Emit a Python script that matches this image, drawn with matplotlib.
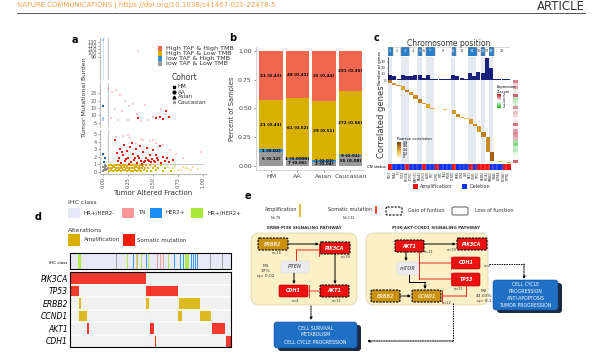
import numpy as np
import matplotlib
matplotlib.use('Agg')
import matplotlib.pyplot as plt
from matplotlib.patches import Rectangle, FancyBboxPatch
from matplotlib.colors import ListedColormap, LinearSegmentedColormap

# ---------------- panel a : TAF vs TMB ----------------
# bottom segment (TMB 0-5)
gold_x1 = [0.06, 0.08, 0.1, 0.12, 0.14, 0.16, 0.18, 0.2, 0.22, 0.24, 0.26, 0.28, 0.3, 0.32, 0.34, 0.36, 0.38, 0.4, 0.43, 0.47, 0.52, 0.58]
gold_y1 = [0.85, 0.9, 0.8, 0.95, 0.85, 0.9, 0.8, 0.92, 0.86, 0.8, 0.9, 0.84, 0.88, 0.82, 0.9, 0.8, 0.87, 0.83, 0.9, 0.85, 0.8, 0.9]
gold_x2 = [0.05, 0.07, 0.09, 0.11, 0.13, 0.15, 0.17, 0.19, 0.21, 0.23, 0.25, 0.27, 0.29, 0.31, 0.33, 0.35, 0.37, 0.39, 0.42, 0.45, 0.5, 0.55, 0.62]
gold_y2 = [0.5, 0.55, 0.45, 0.6, 0.5, 0.55, 0.45, 0.5, 0.6, 0.48, 0.52, 0.45, 0.55, 0.5, 0.6, 0.45, 0.5, 0.55, 0.48, 0.5, 0.55, 0.45, 0.5]
gold_x3 = [0.06, 0.08, 0.1, 0.12, 0.14, 0.16, 0.18, 0.2, 0.22, 0.24, 0.26, 0.28, 0.3, 0.32, 0.34, 0.36, 0.38, 0.41, 0.44, 0.48, 0.53, 0.6, 0.68]
gold_y3 = [0.15, 0.2, 0.1, 0.25, 0.15, 0.2, 0.1, 0.18, 0.22, 0.12, 0.2, 0.15, 0.1, 0.2, 0.15, 0.18, 0.12, 0.2, 0.15, 0.1, 0.2, 0.15, 0.1]
goldc_x = [0.7, 0.75, 0.8, 0.85, 0.9, 0.72, 0.78, 0.83, 0.65, 0.88, 0.95]
goldc_y = [0.5, 0.3, 0.7, 0.4, 0.6, 0.8, 0.2, 0.5, 0.7, 0.3, 0.4]
red_x = [0.12, 0.14, 0.15, 0.17, 0.18, 0.2, 0.21, 0.22, 0.24, 0.25, 0.27, 0.28, 0.3, 0.31, 0.33, 0.34, 0.35,
         0.37, 0.38, 0.4, 0.41, 0.43, 0.44, 0.46, 0.47, 0.49, 0.5, 0.52, 0.53, 0.55, 0.57, 0.58, 0.6, 0.62,
         0.64, 0.66, 0.7, 0.16, 0.23, 0.29, 0.36, 0.42, 0.48, 0.54, 0.19, 0.26, 0.32, 0.39, 0.45, 0.51]
red_y = [4.2, 2.5, 1.5, 3.1, 1.2, 2.2, 3.6, 1.4, 2.8, 1.8, 3.3, 1.3, 2.4, 1.6, 3.0, 1.2, 2.1,
         3.5, 1.5, 2.6, 1.3, 1.9, 3.2, 1.4, 2.2, 1.7, 2.9, 1.3, 2.3, 1.6, 3.4, 1.2, 2.0, 1.5,
         1.9, 1.3, 1.6, 1.9, 1.7, 3.8, 1.8, 1.5, 1.3, 1.9, 2.7, 1.1, 1.9, 1.1, 1.6, 1.4]
pink_x = [0.13, 0.2, 0.27, 0.33, 0.4, 0.47, 0.53, 0.6, 0.67, 0.73, 0.8, 0.98, 0.25, 0.38, 0.5]
pink_y = [4.6, 4.8, 4.5, 3.9, 4.3, 4.1, 3.8, 3.6, 2.9, 2.4, 1.8, 2.6, 4.9, 4.4, 4.2]
blue_x = [0.0, 0.02, 0.01]
blue_y = [2.4, 1.8, 1.3]
grey_x = [0.0, 0.01, 0.02, 0.03, 0.0, 0.02, 0.04, 0.01, 0.03]
grey_y = [0.1, 0.3, 0.5, 0.2, 0.7, 0.9, 0.4, 0.6, 0.8]
# middle segment (TMB 5-30)
redm_x = [0.35, 0.53, 0.57, 0.6, 0.63, 0.66]
redm_y = [8, 8, 8.5, 7.5, 13, 9]
pinkm_x = [0.05, 0.09, 0.13, 0.17, 0.22, 0.26, 0.3, 0.12, 0.19, 0.34, 0.42, 0.5, 0.58, 0.7, 0.62, 0.45, 0.25, 0.15, 0.08, 0.38]
pinkm_y = [28, 26, 27, 24, 20, 16, 18, 14, 13, 11, 17, 9, 14, 21, 11, 7, 7, 7, 8, 6]
bluem_x = [0.0]
bluem_y = [16]
bluemc_x = [0.0, 0.0]
bluemc_y = [8, 7]
# top segment
pinkt_x = [0.35]
pinkt_y = [105]
bluet_x = [0.0]
bluet_y = [136]

# ---------------- panel b ----------------
cohorts = ['HM', 'AA', 'Asian', 'Caucasian']
n_lowlow = [6, 7, 2, 55]
n_lowhigh = [1, 1, 1, 9]
n_highlow = [21, 61, 29, 372]
n_highhigh = [21, 48, 25, 231]

# ---------------- panel c ----------------
c_counts = [9, 6, 2, 8, 6, 7, 8, 9, 4, 8, 2, 1, 1, 1, 1, 9, 7, 3, 1, 11, 6, 14, 11, 36, 20, 1, 1, 1, 2]
c_corr = [0.55, 0.45, 0.5, 0.4, 0.6, 0.45, 0.5, 0.55, 0.45, 0.4, 0.35, 0.3, 0.3, 0.3, 0.3, 0.45, 0.5,
          0.4, 0.3, 0.45, 0.5, 0.45, 0.55, 0.5, 0.65, 0.3, 0.3, 0.3, 0.35]
c_cn = 'RBBBRBBBRBBRBBBRBBBRBRRRBBBRR'
c_genes = ['MCL1', 'NRAS', 'FH', 'SOX2', 'PIK3CA', 'FGFR3', 'MAP3K1', 'RASA1', 'FOXO3', 'EGFR',
           'MET', 'FGFR1', 'MYC', 'JAK2', 'PTEN', 'CCND1', 'KRAS', 'CDK4', 'RB1', 'AKT1', 'CDH1',
           'TP53', 'ERBB2', 'BRCA1', 'SMAD4', 'GNAS', 'AURKA', 'NCOA3', 'PTPN1']
chrom_groups = [('1', 0, 1, 1), ('2', 1, 3, 0), ('3', 3, 5, 1), ('4', 5, 7, 0), ('5', 7, 8, 1), ('6', 8, 9, 0),
                ('7', 9, 11, 1), ('8', 11, 15, 0), ('11', 15, 16, 1), ('12', 16, 19, 0), ('14', 19, 21, 1),
                ('15', 21, 22, 0), ('16', 22, 23, 1), ('17', 23, 24, 0), ('19', 24, 25, 1), ('20', 25, 29, 0)]
expr_z = [1.6, 0.6, 1.2, -0.4, 0.3, 2.0, -1.0, -0.8, -0.5, 1.4, 0.2, 0.8, 0.6, 0.1, 0.3, 1.8, 0.2,
          1.2, 1.5, 1.3, 1.0, -1.2, -1.6, -0.7, -0.9, -0.4, -0.2, 0.1, 2.0]

# ---------------- panel d ----------------
n_samples = 160
ihc_pink = [67, 86, 89, 92]
ihc_blue = [63, 76, 103, 109, 112, 120, 122, 124, 126]
ihc_lime = [8, 9, 10, 57, 66, 71, 78, 97, 114, 115, 116, 117]
ihc_na = [46, 139, 151]
onco_genes = ['PIK3CA', 'TP53', 'ERBB2', 'CCND1', 'AKT1', 'CDH1']
onco_type = [2, 2, 1, 1, 2, 2]   # 1 amplification, 2 somatic mutation
onco_runs = [[(0, 76)],
             [(0, 9), (76, 107)],
             [(9, 11), (76, 79), (108, 129)],
             [(9, 17), (107, 111), (129, 140)],
             [(0, 1), (17, 19), (80, 83), (141, 154)],
             [(84, 85), (155, 160)]]

RED = '#F0674F'
GOLD = '#D8B000'
BLUE = '#2B8FD9'
GREY = '#9A9A9A'
MUT = '#EE1C0E'

W, H = 600, 358
fig = plt.figure(figsize=(6, 3.58), dpi=100)


def px(x0, y0, x1, y1):
    return fig.add_axes([x0 / W, 1 - y1 / H, (x1 - x0) / W, (y1 - y0) / H])


# overlay for free text / shapes, drawn above the data axes
ov = px(0, 0, W, H)
ov.set_xlim(0, W)
ov.set_ylim(H, 0)
ov.axis('off')
ov.set_zorder(10)

# header
ov.text(17, 5.5, 'NATURE COMMUNICATIONS | https://doi.org/10.1038/s41467-021-22478-5', fontsize=5,
        color='#F4A04A', va='center')
ov.text(585, 6, 'ARTICLE', fontsize=8.5, color='#333333', ha='right', va='center')
ov.plot([17, 585], [12.5, 12.5], color='#555555', lw=0.7)

for lab, x, y in [('a', 75, 40), ('b', 233, 38), ('c', 377, 38), ('d', 38, 217), ('e', 248, 196)]:
    ov.text(x, y, lab, fontsize=7, weight='bold', ha='center', va='center')

# ---------------- panel a ----------------
def seg(y0, y1, ylim, ticks):
    ax = px(100, y0, 206, y1)
    ax.set_xlim(-0.03, 1.03)
    ax.set_ylim(*ylim)
    for s in ['top', 'right', 'bottom']:
        ax.spines[s].set_visible(False)
    ax.spines['left'].set_color('#BBBBBB')
    ax.spines['left'].set_linewidth(0.8)
    ax.set_yticks(ticks)
    ax.tick_params(length=1.5, width=0.4, labelsize=3.5, pad=1, colors='#555555')
    ax.set_xticks([])
    ax.axvline(0.05, color='#C8C8C8', lw=0.8, zorder=0)
    ax.patch.set_alpha(0)
    return ax

a_top = seg(38, 80, (30, 140), [90, 100, 110, 120, 130])
a_mid = seg(83, 127, (2, 32), [5, 10, 15, 20, 25])
a_bot = seg(130, 174, (-0.3, 5.6), [0, 1, 2, 3, 4, 5])
a_bot.spines['bottom'].set_visible(True)
a_bot.spines['bottom'].set_color('#BBBBBB')
a_bot.set_xticks([0, 0.25, 0.5, 0.75, 1.0])
a_bot.set_xticklabels(['0.00', '0.25', '0.50', '0.75', '1.00'], rotation=90)
a_bot.set_xlabel('Tumor Altered Fraction', fontsize=5, labelpad=1.5, color='#333333')
a_bot.plot([0.05, 1.0], [1, 1], color='#C8C8C8', lw=0.7, zorder=0)
a_top.plot([0.0, 0.0], [30, 140], color='#CFE3F5', lw=0.8, zorder=0)

ms = 4
for xs, ys in [(gold_x1, gold_y1), (gold_x2, gold_y2), (gold_x3, gold_y3)]:
    a_bot.scatter(xs, ys, s=ms, marker='s', color=GOLD, lw=0)
a_bot.scatter(goldc_x, goldc_y, s=ms, marker='s', color=GOLD, alpha=0.35, lw=0)
a_bot.scatter(pink_x, pink_y, s=ms, marker='s', color='#F07070', alpha=0.35, lw=0)
a_bot.scatter(red_x, red_y, s=ms, marker='s', color='#EA1B10', lw=0)
a_bot.scatter(blue_x, blue_y, s=ms, marker='s', color='#1565C0', lw=0)
a_bot.scatter(grey_x, grey_y, s=ms, marker='s', color='#8C8C8C', lw=0)
a_mid.scatter(pinkm_x, pinkm_y, s=ms, marker='s', color='#F07070', alpha=0.35, lw=0)
a_mid.scatter(redm_x, redm_y, s=ms, marker='s', color='#EA1B10', lw=0)
a_mid.scatter(bluem_x, bluem_y, s=ms, marker='s', color='#1565C0', lw=0)
a_mid.scatter(bluemc_x, bluemc_y, s=ms, marker='s', color='#1565C0', alpha=0.35, lw=0)
a_top.scatter(pinkt_x, pinkt_y, s=ms, marker='s', color='#F07070', alpha=0.35, lw=0)
a_top.scatter(bluet_x, bluet_y, s=ms, marker='s', color='#1565C0', alpha=0.35, lw=0)
ov.text(84, 97, 'Tumor Mutational Burden', rotation=90, fontsize=4.5, ha='center', va='center', color='#333333')

cat_labels = ['High TAF & High TMB', 'High TAF & Low TMB', 'low TAF & High TMB', 'low TAF & Low TMB']
for i, (lab, col) in enumerate(zip(cat_labels, [RED, GOLD, BLUE, GREY])):
    ov.add_patch(Rectangle((158, 46 + 5 * i), 4, 4.6, color=col, lw=0))
    ov.text(165.5, 48.5 + 5 * i, lab, fontsize=4.6, va='center', color='#333333')
ov.text(172, 78, 'Cohort', fontsize=5.5, va='center', color='#333333')
for i, (lab, m, a) in enumerate(zip(cohorts, ['s', 'o', '^', 's'], [1, 1, 1, 0.3])):
    ov.plot(174, 87 + 5 * i, marker=m, ms=2, color='black', alpha=a, lw=0)
    ov.text(177.5, 87 + 5 * i, lab, fontsize=4, va='center', color='#333333')

# ---------------- panel b ----------------
ab = px(256, 47, 364, 170)
xb = np.arange(len(cohorts))
tot = np.array(n_lowlow) + np.array(n_lowhigh) + np.array(n_highlow) + np.array(n_highhigh)
bottom = np.zeros(len(cohorts))
for counts, col in [(n_lowlow, GREY), (n_lowhigh, BLUE), (n_highlow, GOLD), (n_highhigh, RED)]:
    frac = np.array(counts) / tot
    ab.bar(xb, frac, bottom=bottom, width=0.9, color=col, lw=0)
    for i in range(len(cohorts)):
        f = frac[i]
        txt = f'{counts[i]} ({f:.4f})' if f < 0.01 else f'{counts[i]} ({f:.2f})'
        ab.text(xb[i], bottom[i] + f / 2, txt, fontsize=3, weight='bold', ha='center', va='center')
    bottom += frac
ab.set_xlim(-0.566, 3.51)
ab.set_ylim(-0.035, 1.032)
ab.set_yticks([0, 0.25, 0.5, 0.75, 1.0])
ab.set_yticklabels(['0.00', '0.25', '0.50', '0.75', '1.00'])
ab.set_xticks(xb)
ab.set_xticklabels(cohorts)
ab.tick_params(length=1.5, width=0.4, labelsize=4.5, pad=1.5, colors='#444444')
for s in ['top', 'right']:
    ab.spines[s].set_visible(False)
for s in ['left', 'bottom']:
    ab.spines[s].set_color('#CCCCCC')
    ab.spines[s].set_linewidth(0.6)
ab.set_ylabel('Percent of Samples', fontsize=4.8, labelpad=2, color='#333333')

# ---------------- panel c ----------------
ncol = len(c_counts)
ov.text(449, 44, 'Chromosome position', fontsize=5.5, ha='center', va='center', color='#333333')
ac0 = px(388, 47, 510, 56)
ac0.set_xlim(0, ncol)
ac0.set_ylim(0, 1)
ac0.axis('off')
for lab, s, e, hl in chrom_groups:
    ac0.add_patch(Rectangle((s + 0.1, 0.05), e - s - 0.2, 0.9, fc='#2A7FC9' if hl else 'white',
                            ec='#1B4F80' if hl else '#BBBBBB', lw=0.4))
    ac0.text((s + e) / 2, 0.5, lab, fontsize=2.5, ha='center', va='center', color='white' if hl else '#333333')

ac1 = px(388, 57, 510, 80)
ac1.set_xlim(0, ncol)
ac1.set_ylim(0, 38)
for lab, s, e, hl in chrom_groups:
    if hl:
        ac1.axvspan(s, e, color='#E4E9F2', lw=0, zorder=0)
ac1.bar(np.arange(ncol) + 0.5, c_counts, width=0.95, color='#1A1F7A', zorder=2)
ac1.set_xticks([])
ac1.set_yticks([0, 10, 20, 30])
ac1.tick_params(length=1, width=0.3, labelsize=2.8, pad=0.5, colors='#444444')
for s in ['top', 'right', 'bottom']:
    ac1.spines[s].set_visible(False)
ac1.spines['left'].set_linewidth(0.4)
ov.text(379.5, 68, 'Number of genes', rotation=90, fontsize=2.8, ha='center', va='center')

nrow = sum(c_counts)
mat = np.full((nrow, ncol), np.nan)
r0 = 0
for j, n in enumerate(c_counts):
    mat[r0:r0 + n, j] = c_corr[j]
    r0 += n
corr_cmap = LinearSegmentedColormap.from_list('corr', ['#FFF7D9', '#F4D27A', '#E0A52B', '#B5701A', '#7A3D0C'])
ac2 = px(388, 80, 510, 163)
for lab, s, e, hl in chrom_groups:
    if hl:
        ac2.axvspan(s, e, color='#E4E9F2', lw=0, zorder=0)
ac2.imshow(np.ma.masked_invalid(mat), aspect='auto', cmap=corr_cmap, vmin=0, vmax=0.8,
           extent=(0, ncol, nrow, 0), interpolation='nearest', zorder=2)
ac2.set_xlim(0, ncol)
ac2.set_ylim(nrow, 0)
ac2.axis('off')
ov.text(382, 122, 'Correlated genes', rotation=90, fontsize=6, ha='center', va='center', color='#333333')

ac3 = px(388, 164, 510, 170)
cn_vals = np.array([[1 if c == 'R' else 0 for c in c_cn]])
ac3.imshow(cn_vals, aspect='auto', cmap=ListedColormap(['#1030F0', '#F01010']), vmin=0, vmax=1,
           extent=(0, ncol, 1, 0), interpolation='nearest')
for j in range(1, ncol):
    ac3.axvline(j, color='white', lw=0.2)
ac3.axis('off')
ov.text(386, 167, 'CN status', fontsize=2.8, ha='right', va='center')
for j, g in enumerate(c_genes):
    ov.text(388 + (j + 0.5) * 122 / ncol, 171, g, rotation=90, fontsize=2.0, ha='center', va='top', color='#333333')
ov.add_patch(Rectangle((413, 184), 5, 5, color='#F01010', lw=0))
ov.text(420, 186.5, 'Amplification', fontsize=3.5, va='center', color='#333333')
ov.add_patch(Rectangle((462, 184), 5, 5, color='#1030F0', lw=0))
ov.text(469, 186.5, 'Deletion', fontsize=3.5, va='center', color='#333333')

expr_cmap = LinearSegmentedColormap.from_list('expr', ['#18B018', 'white', '#B2182B'])
ac4 = px(513, 80, 518, 163)
ac4.imshow(np.array(expr_z).reshape(-1, 1), aspect='auto', cmap=expr_cmap, vmin=-3, vmax=3,
           interpolation='nearest')
ac4.axis('off')

# gradient legends
grad = np.linspace(1, 0, 50).reshape(-1, 1)
ov.text(497, 89.5, 'Expression\nZ-score', fontsize=2.5, va='center', linespacing=1.1)
al1 = px(497, 94, 501, 108)
al1.imshow(grad, aspect='auto', cmap=expr_cmap, interpolation='bilinear')
al1.axis('off')
for k, t in enumerate(['2', '1', '0', '-1', '-2']):
    ov.text(503, 94.5 + k * 3.2, t, fontsize=2.3, va='center')
ov.text(397, 138.5, 'Pearson correlation', fontsize=2.5, va='center')
al2 = px(397, 142, 401, 158)
al2.imshow(grad, aspect='auto', cmap=corr_cmap, interpolation='bilinear')
al2.axis('off')
for k, t in enumerate(['0.8', '0.6', '0.4', '0.2', '0']):
    ov.text(403, 142.5 + k * 3.7, t, fontsize=2.3, va='center')

# ---------------- panel d ----------------
ov.text(68, 203, 'IHC class', fontsize=4.5, va='center', color='#333333')
ihc_cols = ['#E6E8F8', '#F79494', '#1B8EF5', '#A8E838', '#9A9A9A']
for (x0, lab), col in zip([(68, 'HR+/HER2-'), (122, 'TN'), (150, 'HER2+'), (191, 'HR+/HER2+')], ihc_cols):
    ov.add_patch(Rectangle((x0, 208), 12, 10, color=col, lw=0))
    ov.text(x0 + 16, 213, lab, fontsize=4, va='center', color='#333333')
ov.text(68, 230, 'Alterations', fontsize=4.5, va='center', color='#333333')
ov.add_patch(Rectangle((68, 234), 12, 12, color=GOLD, lw=0))
ov.text(84, 240, 'Amplification', fontsize=4, va='center', color='#333333')
ov.add_patch(Rectangle((123, 234), 12, 12, color=MUT, lw=0))
ov.text(137, 240, 'Somatic mutation', fontsize=4, va='center', color='#333333')

ihc = np.zeros(n_samples, dtype=int)
ihc[ihc_pink] = 1
ihc[ihc_blue] = 2
ihc[ihc_lime] = 3
ihc[ihc_na] = 4
ad0 = px(70, 253, 231, 269)
ad0.imshow(ihc.reshape(1, -1), aspect='auto', cmap=ListedColormap(ihc_cols), vmin=-0.5, vmax=4.5,
           extent=(0, n_samples, 1, 0), interpolation='nearest')
for j in range(1, n_samples):
    ad0.axvline(j, color='white', lw=0.15, alpha=0.6)
ad0.set_xticks([])
ad0.set_yticks([])
for s in ad0.spines.values():
    s.set_linewidth(0.8)
ov.text(67, 263, 'IHC class', fontsize=3, ha='right', va='center')

onco = np.zeros((len(onco_genes), n_samples))
for i, runs in enumerate(onco_runs):
    for s, e in runs:
        onco[i, s:e] = onco_type[i]
ad1 = px(70, 272, 231, 347)
ad1.imshow(onco, aspect='auto', cmap=ListedColormap(['#EFEFEF', GOLD, MUT]), vmin=-0.5, vmax=2.5,
           extent=(0, n_samples, len(onco_genes), 0), interpolation='nearest')
for j in range(1, n_samples):
    ad1.axvline(j, color='white', lw=0.2, alpha=0.5)
for i in range(1, len(onco_genes)):
    ad1.axhline(i, color='white', lw=1.3)
ad1.set_xticks([])
ad1.set_yticks(np.arange(len(onco_genes)) + 0.5)
ad1.set_yticklabels(onco_genes, style='italic', fontsize=5.5)
ad1.tick_params(length=0, pad=1.5)
for s in ad1.spines.values():
    s.set_linewidth(0.8)

# ---------------- panel e ----------------
ov.text(281, 209.5, 'Amplification', fontsize=3.5, ha='center', va='center', color='#333333')
ov.text(276, 218, 'N=78', fontsize=2.6, ha='center', va='center', color='#333333')
ov.plot([300, 300], [205, 216], color=GOLD, lw=1.2)
ov.text(350, 209.5, 'Somatic mutation', fontsize=3.5, ha='center', va='center', color='#333333')
ov.text(349, 218, 'N=132', fontsize=2.6, ha='center', va='center', color='#333333')
ov.plot([376, 376], [207, 213], color=MUT, lw=1.2)
ov.add_patch(FancyBboxPatch((386, 207), 16, 8, boxstyle='round,pad=0,rounding_size=1.5', fc='none',
                            ec='black', lw=0.8, ls=(0, (2, 1.2))))
ov.text(408, 211, 'Gain of funtion', fontsize=3.5, va='center', color='#333333')
ov.add_patch(FancyBboxPatch((452, 207), 16, 8, boxstyle='round,pad=0,rounding_size=1.5', fc='none',
                            ec='#555555', lw=0.7))
ov.text(475, 211, 'Loss of function', fontsize=3.5, va='center', color='#333333')

for (x0, y0, x1, y1), title, tx in [((251, 233, 357, 305), 'ERBB-PI3K SIGNALING PATHWAY', 304),
                                    ((366, 233, 488, 305), 'PI3K-AKT-CCND1 SIGNALING PATHWAY', 436)]:
    ov.add_patch(FancyBboxPatch((x0, y0), x1 - x0, y1 - y0, boxstyle='round,pad=0,rounding_size=8',
                                fc='#FBF0C6', ec='#D8D0B0', lw=0.5))
    ov.text(tx, 228, title, fontsize=3, weight='bold', ha='center', va='center', color='#333333')


def gbox(x0, y0, x1, y1, name, kind, dashed):
    fc = {'mut': '#EE1111', 'amp': '#C8920E', 'grey': '#ECECF0'}[kind]
    ec = 'black' if dashed else ('#A00000' if kind == 'mut' else '#E0E0E0')
    ov.add_patch(FancyBboxPatch((x0, y0), x1 - x0, y1 - y0, boxstyle='round,pad=0,rounding_size=1.5',
                                fc=fc, ec=ec, lw=0.8 if dashed else 0.4, ls=(0, (2, 1)) if dashed else '-'))
    col = '#777777' if kind == 'grey' else ('#F5E6C0' if kind == 'amp' else 'white')
    ov.text((x0 + x1) / 2, (y0 + y1) / 2, name, fontsize=3.4, style='italic', weight='bold',
            ha='center', va='center', color=col)


def arrow(pts, color='black', inhibit=False, ls='-'):
    xs = [p[0] for p in pts]
    ys = [p[1] for p in pts]
    if len(pts) > 2:
        ov.plot(xs[:-1], ys[:-1], color=color, lw=0.7, ls=ls)
    style = '-[, widthB=1.2, lengthB=0' if inhibit else '-|>'
    ov.annotate('', xy=pts[-1], xytext=pts[-2],
                arrowprops=dict(arrowstyle=style, color=color, lw=0.7, ls=ls, mutation_scale=3.5,
                                shrinkA=0, shrinkB=0))


def small(x, y, t, ha='center'):
    ov.text(x, y, t, fontsize=2.6, ha=ha, va='center', color='#333333')


# pathway 1
gbox(258, 238, 288, 250, 'ERBB2', 'amp', True)
gbox(320, 242, 350, 254, 'PIK3CA', 'mut', True)
gbox(281, 261, 309, 273, 'PTEN', 'grey', False)
gbox(279, 285, 308, 297, 'CDH1', 'mut', False)
gbox(320, 285, 349, 297, 'AKT1', 'mut', True)
small(277, 253.5, 'n=14')
small(346, 257, 'n=39')
small(295, 301.5, 'n=4')
small(336, 301, 'n=11')
ov.text(266, 271, 'M1\n37%\nq= 0.02', fontsize=3.2, ha='center', va='center', color='#333333', linespacing=1.3)
arrow([(288, 244), (319, 244)])
arrow([(296, 260), (296, 250), (319, 250)], color='#EE2222', inhibit=True)
arrow([(335, 254), (335, 284)])
arrow([(294, 273), (294, 284)])
arrow([(319, 291), (309, 291)], color='#EE2222', inhibit=True, ls=(0, (2, 1)))
arrow([(311, 306), (311, 320)], ls=(0, (1.5, 1)))
# pathway 2
gbox(395, 240, 424, 252, 'AKT1', 'mut', True)
gbox(457, 238, 487, 250, 'PIK3CA', 'mut', True)
gbox(397, 262, 419, 275, 'mTOR', 'grey', False)
gbox(452, 257, 480, 269, 'CDH1', 'mut', False)
gbox(452, 273, 480, 286, 'TP53', 'mut', False)
gbox(371, 290, 400, 302, 'ERBB2', 'amp', True)
gbox(412, 290, 441, 302, 'CCND1', 'amp', True)
small(429, 252, 'n=11')
small(452, 250, 'n=39')
small(487, 266, 'n=4')
small(459, 289.5, 'n=21')
small(446, 303, 'n=12')
ov.text(484, 296, 'M2\n43.03%\nq= 0.1', fontsize=3.2, ha='center', va='center', color='#333333', linespacing=1.3)
arrow([(424, 244), (456, 244)])
arrow([(406, 252), (406, 261)])
arrow([(419, 252), (419, 263), (451, 263)], color='#EE2222', inhibit=True)
arrow([(419, 263), (419, 279), (451, 279)], color='#EE2222', inhibit=True)
arrow([(409, 275), (409, 282), (425, 282), (425, 289)])
arrow([(400, 296), (411, 296)], ls=(0, (2, 1)))
arrow([(466, 286), (466, 296), (442, 296)], color='#EE2222', inhibit=True)
arrow([(489, 264), (524, 264), (524, 279)], ls=(0, (1.5, 1)))
arrow([(453, 303), (453, 341), (367, 341)], ls=(0, (1.5, 1)))

# outcome boxes
for (x0, y0, x1, y1), txt in [((274, 322, 357, 348), 'CELL SURVIVAL\nMETABOLISM\nCELL CYCLE PROGRESSION'),
                              ((493, 280, 558, 310), 'CELL CYCLE\nPROGRESSION\nANTI-APOPTOSIS\nTUMOR PROGRESSION')]:
    ov.add_patch(FancyBboxPatch((x0 + 4, y0 + 3), x1 - x0, y1 - y0, boxstyle='round,pad=0,rounding_size=3',
                                fc='#1D2A45', ec='none'))
    ov.add_patch(FancyBboxPatch((x0, y0), x1 - x0, y1 - y0, boxstyle='round,pad=0,rounding_size=3',
                                fc='#1F6FC5', ec='#174E8C', lw=0.4))
    ov.text((x0 + x1) / 2, (y0 + y1) / 2, txt, fontsize=3.3, ha='center', va='center', color='white',
            linespacing=1.5)

fig.savefig('out.png', dpi=100)
